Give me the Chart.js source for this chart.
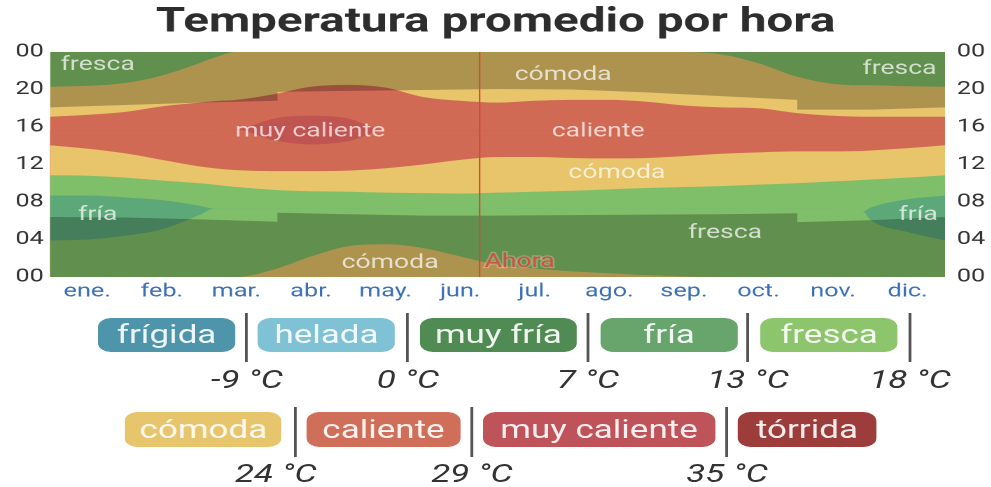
<!DOCTYPE html>
<html><head><meta charset="utf-8">
<script src="https://cdn.jsdelivr.net/npm/chart.js@4"></script>
<style>
html,body{margin:0;padding:0;background:#fff;width:991px;height:487px;overflow:hidden;font-family:Roboto,"Noto Sans",sans-serif;}
#wrap{position:absolute;left:0;top:0;width:708px;height:487px;transform:scaleX(1.4);transform-origin:0 0;}
#c{position:absolute;left:0;top:0;}
.pill{position:absolute;border-radius:9px;text-align:center;color:rgba(255,255,255,0.9);font-size:25px;white-space:nowrap;}
.sep{position:absolute;width:2px;background:#555;}
.tl{position:absolute;width:100px;text-align:center;font-style:italic;font-size:25px;line-height:25px;color:#333;white-space:nowrap;}
</style></head><body>
<div id="wrap"><canvas id="c" width="708" height="487"></canvas><div id="legend"></div></div>
<script>
// ---------- data ----------
const monthLabels = ['ene.','feb.','mar.','abr.','may.','jun.','jul.','ago.','sep.','oct.','nov.','dic.'];
const monthEdges = [0,1,2,3,4,5,6,7,8,9,10,11,12];
const hourTicks = [0,4,8,12,16,20,24];
const hourLabels = ['00','04','08','12','16','20','00'];

// sample positions along the year (months from 1 Jan)
const xs = [0,0.5,1,1.5,2,2.2,2.5,3,3.5,4,4.5,5,5.5,6,6.5,7,7.5,8,8.5,9,9.5,10,10.5,10.9,11,11.5,12];

// upper boundary (hour) of each temperature band, bottom to top
const comodaNightTop   = [0,0,0,0,0,0,0,0.8,2.2,3.3,3.5,3.1,2.2,1.3,0.9,0.6,0.4,0.2,0.05,0,0,0,0,0,0,0,0];
const frescaLowTop     = [3.9,4.0,4.4,5.1,6.6,7.3,7.3,7.3,7.3,7.3,7.3,7.3,7.3,7.3,7.3,7.3,7.3,7.3,7.3,7.3,7.3,7.3,7.3,7.0,6.1,4.8,3.9];
const friaTop          = [8.7,8.7,8.5,8.2,7.6,7.3,7.3,7.3,7.3,7.3,7.3,7.3,7.3,7.3,7.3,7.3,7.3,7.3,7.3,7.3,7.3,7.3,7.3,7.0,7.4,8.3,8.7];
const frescaMorningTop = [10.85,10.8,10.6,10.3,10.0,9.85,9.6,9.3,9.15,9.1,9.0,8.95,8.9,9.0,9.1,9.2,9.35,9.5,9.6,9.7,9.85,10.0,10.2,10.35,10.4,10.6,10.85];
const comodaMorningTop = [14.06,13.7,13.2,12.5,11.8,11.6,11.4,11.3,11.3,11.35,11.6,12.0,12.5,12.8,12.8,12.7,12.65,12.7,12.9,13.15,13.3,13.4,13.4,13.45,13.5,13.75,14.06];
const calienteLowTop   = [15.6,15.6,15.6,15.6,15.6,15.6,15.7,14.6,14.15,14.5,15.6,15.6,15.6,15.6,15.6,15.6,15.6,15.6,15.6,15.6,15.6,15.6,15.6,15.6,15.6,15.6,15.6];
const muyCalienteTop   = [15.6,15.6,15.6,15.6,15.6,15.6,15.7,16.9,17.2,16.9,15.6,15.6,15.6,15.6,15.6,15.6,15.6,15.6,15.6,15.6,15.6,15.6,15.6,15.6,15.6,15.6,15.6];
const calienteHighTop  = [17.1,17.3,17.6,18.2,18.6,18.75,18.9,19.5,20.3,20.5,20.2,19.2,18.8,18.6,18.8,18.9,18.9,18.7,18.3,18.1,18.0,17.5,17.2,17.1,17.1,17.1,17.1];
const comodaEveningTop = [20.3,20.4,20.7,21.5,22.8,23.4,24,24,24,24,24,24,24,24,24,24,24,24,24,23.75,22.8,21.4,20.6,20.45,20.45,20.35,20.3];
const frescaTopTop     = [24,24,24,24,24,24,24,24,24,24,24,24,24,24,24,24,24,24,24,24,24,24,24,24,24,24,24];

// night (sunrise / sunset, with DST steps)
const sunX     = [0,1,2,3.05,3.05,4,5,6,7,8,9,10.02,10.02,11,12];
const sunriseH = [6.4,6.35,6.15,5.9,6.85,6.7,6.55,6.55,6.6,6.65,6.7,6.8,5.85,6.05,6.4];
const sunsetH  = [18.1,18.35,18.6,18.8,19.75,19.85,19.95,20.05,20.0,19.7,19.3,18.9,17.85,17.85,18.1];

const nowMonth = 5.76;

// in-chart band labels (month, hour)
const labelTexts  = ['fresca','cómoda','fresca','muy caliente','caliente','cómoda','fría','fría','fresca','cómoda'];
const labelMonths = [0.64,6.88,11.39,3.49,7.35,7.6,0.64,11.64,9.05,4.56];
const labelHours  = [22.6,21.5,22.15,15.5,15.5,11.05,6.58,6.58,4.66,1.46];

// legend
const legendRow1 = ['frígida','helada','muy fría','fría','fresca'];
const legendRow2 = ['cómoda','caliente','muy caliente','tórrida'];
const thresholds1 = ['-9 °C','0 °C','7 °C','13 °C','18 °C'];
const thresholds2 = ['24 °C','29 °C','35 °C'];

// ---------- styles ----------
const COL = {
  comoda:'#e8c46a', fresca:'#80bf69', fria:'#5ca879', caliente:'#d06a55', muyCaliente:'#bf5451'
};
const legendColors1 = ['#4e94ab','#7fc1d5','#508b53','#67a56d','#8cc56b'];
const legendColors2 = ['#e7c56c','#cf6f59','#bf535a','#9c3d3b'];
const pill1Left = [70,184.3,300,428.6,542.9], pill1W = [98,97.8,112,98.5,98.5];
const sep1X = [176.4,291.4,420,534.3,650];
const pill2Left = [89.3,219.3,345,527.1], pill2W = [112.1,109.3,165.7,98.6];
const sep2X = [210.7,337.1,519.3];
const tl2X = [197,337.1,519.3];

// ---------- legend html ----------
const lg = document.getElementById('legend');
function add(cls, css, text){const d=document.createElement('div');d.className=cls;Object.assign(d.style,css);if(text)d.textContent=text;lg.appendChild(d);}
legendRow1.forEach((t,i)=>add('pill',{left:pill1Left[i]+'px',width:pill1W[i]+'px',top:'318px',height:'34px',lineHeight:'34px',background:legendColors1[i]},t));
sep1X.forEach((x,i)=>{add('sep',{left:(x-1)+'px',top:'313px',height:'49px'});add('tl',{left:(x-50)+'px',top:'367px'},thresholds1[i]);});
legendRow2.forEach((t,i)=>add('pill',{left:pill2Left[i]+'px',width:pill2W[i]+'px',top:'412px',height:'35px',lineHeight:'35px',background:legendColors2[i]},t));
sep2X.forEach((x,i)=>{add('sep',{left:(x-1)+'px',top:'407px',height:'50px'});});
tl2X.forEach((x,i)=>add('tl',{left:(x-50)+'px',top:'461px'},thresholds2[i]));

// ---------- chart ----------
Chart.defaults.font.family = 'Roboto, "Noto Sans", sans-serif';
const bands = [
  [comodaNightTop, COL.comoda],
  [frescaLowTop, COL.fresca],
  [friaTop, COL.fria],
  [frescaMorningTop, COL.fresca],
  [comodaMorningTop, COL.comoda],
  [calienteLowTop, COL.caliente],
  [muyCalienteTop, COL.muyCaliente],
  [calienteHighTop, COL.caliente],
  [comodaEveningTop, COL.comoda],
  [frescaTopTop, COL.fresca]
];
const NONE = 'rgba(0,0,0,0)';
const NIGHT = 'rgba(0,0,0,0.25)';
const datasets = bands.map(([top,color]) => ({
  data: xs.map((x,i)=>({x, y: top[i]})),
  backgroundColor: color, borderColor: NONE, borderWidth: 0, pointRadius: 0,
  fill: 'start', cubicInterpolationMode: 'monotone', order: 5
}));
datasets.push({data: sunX.map((x,i)=>({x, y: sunriseH[i]})), backgroundColor: NIGHT, borderColor: NONE, borderWidth: 0, pointRadius: 0, fill: 'start', tension: 0, order: 1});
datasets.push({data: sunX.map((x,i)=>({x, y: sunsetH[i]})), backgroundColor: NIGHT, borderColor: NONE, borderWidth: 0, pointRadius: 0, fill: 'end', tension: 0, order: 1});
datasets.push({data: [{x: nowMonth, y: 0}, {x: nowMonth, y: 24}], borderColor: '#d8493b', borderWidth: 1.1, pointRadius: 0, fill: false, order: 0});

const labelPlugin = {
  id: 'bandLabels',
  afterDatasetsDraw(chart){
    const {ctx, scales:{x, y}} = chart;
    ctx.save();
    ctx.font = '19px Roboto, "Noto Sans", sans-serif';
    ctx.textAlign = 'center'; ctx.textBaseline = 'middle';
    ctx.fillStyle = 'rgba(255,255,255,0.72)';
    labelTexts.forEach((t,i)=>ctx.fillText(t, x.getPixelForValue(labelMonths[i]), y.getPixelForValue(labelHours[i])));
    ctx.textAlign = 'left';
    const nx = x.getPixelForValue(nowMonth) + 3.5, ny = y.getPixelForValue(1.57);
    ctx.lineWidth = 2.5; ctx.strokeStyle = 'rgba(255,210,190,0.35)';
    ctx.strokeText('Ahora', nx, ny);
    ctx.fillStyle = '#c9553f';
    ctx.fillText('Ahora', nx, ny);
    ctx.restore();
  }
};

const yAxis = (pos, width, pad) => ({
  type: 'linear', min: 0, max: 24, position: pos,
  afterBuildTicks: s => { s.ticks = hourTicks.map(v=>({value:v})); },
  afterFit: s => { s.width = width; },
  ticks: {callback: (v,i)=>hourLabels[i], padding: pad, color: '#333', font: {size: 18}},
  grid: {display: false, drawTicks: false}, border: {display: false}
});

new Chart(document.getElementById('c'), {
  type: 'line',
  data: {datasets},
  plugins: [labelPlugin],
  options: {
    responsive: false, animation: false, devicePixelRatio: 2,
    layout: {padding: {top: 0, left: 0, right: 0, bottom: 180}},
    plugins: {
      legend: {display: false}, tooltip: {enabled: false},
      title: {display: true, text: 'Temperatura promedio por hora', color: '#2d2d2d',
        font: {size: 34, weight: 'bold', lineHeight: 1}, padding: {top: 6, bottom: 12}}
    },
    scales: {
      x: {
        type: 'linear', min: 0, max: 12, z: 1,
        afterBuildTicks: s => { s.ticks = monthEdges.map(v=>({value:v})); },
        afterFit: s => { s.height = 30; },
        ticks: {callback: (v,i)=>monthLabels[i] || '', labelOffset: 26.6, padding: 4, color: '#3b6fb6',
          font: {size: 18}, autoSkip: false, maxRotation: 0},
        grid: {color: c => (c.index === 0 || c.index === 12) ? NONE : 'rgba(0,0,0,0.1)', drawTicks: false, lineWidth: 1},
        border: {display: false}
      },
      y: yAxis('left', 35.7, 4.5),
      y2: yAxis('right', 33, 8.5)
    }
  }
});
</script>
</body></html>
